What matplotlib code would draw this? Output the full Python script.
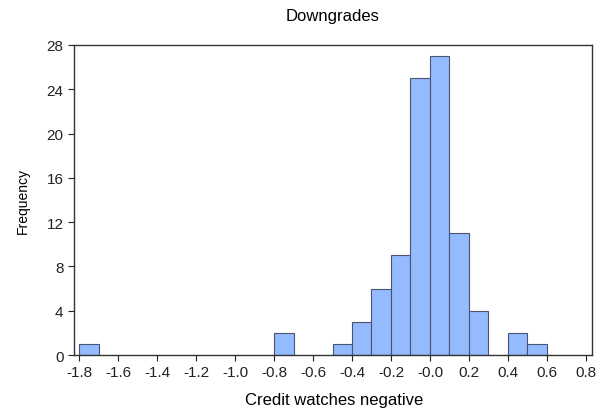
import matplotlib.pyplot as plt
import numpy as np

plt.rcParams['font.family'] = ['Liberation Sans', 'DejaVu Sans']

# histogram bins (left edges, width 0.1) and frequencies
bin_left = [-1.8, -0.8, -0.5, -0.4, -0.3, -0.2, -0.1, 0.0, 0.1, 0.2, 0.4, 0.5]
counts = [1, 2, 1, 3, 6, 9, 25, 27, 11, 4, 2, 1]
bin_width = 0.1

xticks = np.round(np.arange(-1.8, 0.81, 0.2), 1)
yticks = [0, 4, 8, 12, 16, 20, 24, 28]

fig = plt.figure(figsize=(6.11, 4.14), dpi=100)
ax = fig.add_axes([0.1211, 0.140, 0.8478, 0.749])

ax.bar(bin_left, counts, width=bin_width, align='edge',
       color='#94bbff', edgecolor='#4a5470', linewidth=0.8)

ax.set_xlim(-1.826, 0.831)
ax.set_ylim(0, 28)
ax.set_xticks(xticks)
ax.set_xticklabels(['%.1f' % t for t in xticks])
ax.set_yticks(yticks)
ax.tick_params(direction='out', length=4, width=0.8, labelsize=11, colors='#222222')
for s in ax.spines.values():
    s.set_linewidth(1.0)
    s.set_color('#333333')

ax.set_title('Downgrades', fontsize=12, pad=18)
ax.set_xlabel('Credit watches negative', fontsize=12)
ax.xaxis.set_label_coords(0.502, -0.118)
ax.set_ylabel('Frequency', fontsize=10, labelpad=12)

plt.savefig('out.png', dpi=100)
